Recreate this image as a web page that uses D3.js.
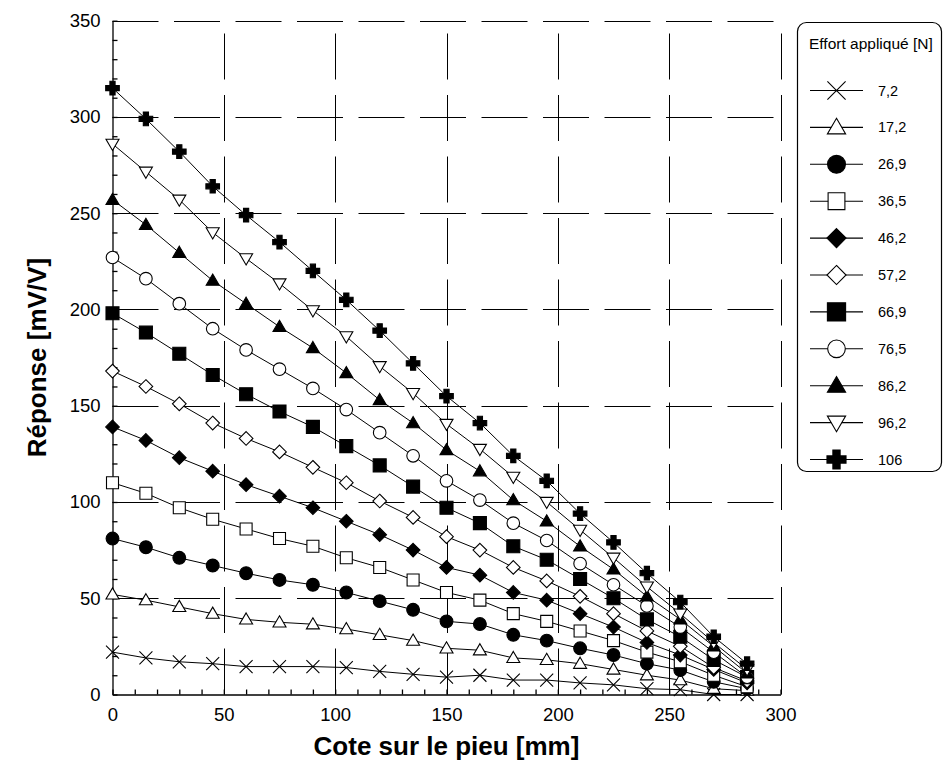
<!DOCTYPE html>
<html><head><meta charset="utf-8">
<script src="https://cdn.jsdelivr.net/npm/d3@7"></script>
<style>
body{margin:0;background:#fff}
text{font-family:"Liberation Sans",Arial,Helvetica,sans-serif;fill:#000}
</style>
</head><body>
<svg id="chart" width="944" height="766"></svg>
<script>
// ---- data ----
const cotes = [0,15,30,45,60,75,90,105,120,135,150,165,180,195,210,225,240,255,270,285];
const efforts = ["7,2","17,2","26,9","36,5","46,2","57,2","66,9","76,5","86,2","96,2","106"];
const markerTypes = ["x","triUp","circleF","square","diamondF","diamond","squareF","circle","triUpF","triDown","plus"];
const r7_2  = [22,19,17,16,14.5,14.5,14.5,14,12,10.5,9,10,7.5,7.5,6,5,3,2.5,0,0];
const r17_2 = [52,49,45.5,42,39,37.5,36.5,34,31,28,24,23,19,18,16,13,10,7.5,3,2];
const r26_9 = [81,76.5,71,67,63,59.5,57,53,48.5,44,38,36.6,31,28,24,20.5,16,12.7,6.6,3];
const r36_5 = [110,104.5,97,91,86,81,77,71,66,59.5,53,49,42,38,33,28,22,17,10,4];
const r46_2 = [139,132,123,116,109,103,97,90,83,75,66,62,53,49,42,35,27,20.5,13,6];
const r57_2 = [168,160,151,141,133,126,118,110,100.5,92,82,75,66,59,51,42,33,25,14,7];
const r66_9 = [198,188,177,166,156,147,139,129,119,108,97,89,77,70,60,50,39,30,18,9];
const r76_5 = [227,216,203,190,179,169,159,148,136,124,111,101,89,80,68,57,46,35,22,9];
const r86_2 = [257,244,229.5,215,203,191,180,167,153,141,127,116,101,90,77,65,51,39,25,11];
const r96_2 = [286,271.5,257,240,226.5,213.5,199.5,186,170.5,156.5,140.5,127.5,113,100,85.5,71,56,42,27,13];
const r106  = [315,299,282,264,249,235,220,205,189,172,155,141,124,111,94,79,63,48,30,16];
const series = [r7_2,r17_2,r26_9,r36_5,r46_2,r57_2,r66_9,r76_5,r86_2,r96_2,r106];
const xTicksMajor = [0,50,100,150,200,250,300];
const yTicksMajor = [0,50,100,150,200,250,300,350];

// ---- layout ----
const svg = d3.select("#chart");
const x = d3.scaleLinear().domain([0,300]).range([112.5,780.5]);
const y = d3.scaleLinear().domain([0,350]).range([694.5,20.7]);

// grid
const grid = svg.append("g").attr("stroke","#000").attr("stroke-width",1).attr("stroke-dasharray","46,15.5");
grid.selectAll(".h").data(yTicksMajor.filter(d=>d>0)).join("line")
  .attr("x1",x(0)).attr("x2",x(300)).attr("y1",d=>Math.round(y(d))+0.5).attr("y2",d=>Math.round(y(d))+0.5);
grid.selectAll(".v").data(xTicksMajor.filter(d=>d>0)).join("line")
  .attr("y1",y(0)).attr("y2",y(350)).attr("x1",d=>Math.round(x(d))+0.5).attr("x2",d=>Math.round(x(d))+0.5);

// axes
const xMinor = d3.axisBottom(x).tickValues(d3.range(0,301,10)).tickSize(-5).tickSizeOuter(0).tickFormat("");
const xMajor = d3.axisBottom(x).tickValues(xTicksMajor).tickSize(0).tickSizeOuter(0).tickPadding(13);
const yMinor = d3.axisLeft(y).tickValues(d3.range(0,351,10)).tickSize(-5).tickSizeOuter(0).tickFormat("");
const yMajor = d3.axisLeft(y).tickValues(yTicksMajor).tickSize(0).tickSizeOuter(0).tickPadding(12);
function styleAxis(g){
  g.selectAll("path,line").attr("stroke","#000").attr("stroke-width",1.3);
  g.selectAll("text").style("font-size","18.5px").style("font-family","'Liberation Sans',Arial,sans-serif").attr("fill","#000");
}
svg.append("g").attr("transform",`translate(0,${y(0)})`).call(xMinor).call(styleAxis);
svg.append("g").attr("transform",`translate(0,${y(0)})`).call(xMajor).call(styleAxis).select(".domain").remove();
svg.append("g").attr("transform",`translate(${x(0)},0)`).call(yMinor).call(styleAxis);
svg.append("g").attr("transform",`translate(${x(0)},0)`).call(yMajor).call(styleAxis).select(".domain").remove();

// axis titles
svg.append("text").attr("x",(x(0)+x(300))/2).attr("y",755).attr("text-anchor","middle")
  .style("font-size","26px").style("font-weight","bold").text("Cote sur le pieu [mm]");
svg.append("text").attr("transform",`translate(46,${(y(0)+y(350))/2}) rotate(-90)`).attr("text-anchor","middle")
  .style("font-size","26px").style("font-weight","bold").text("Réponse [mV/V]");

// marker shapes
function markerPath(type, s){
  const h = s*1.0;
  switch(type){
    case "x": return `M${-s},${-s}L${s},${s}M${-s},${s}L${s},${-s}`;
    case "triUp": case "triUpF": return `M0,${-h*1.05}L${s*1.05},${h*0.75}L${-s*1.05},${h*0.75}Z`;
    case "triDown": return `M0,${h*1.05}L${s*1.05},${-h*0.75}L${-s*1.05},${-h*0.75}Z`;
    case "square": case "squareF": return `M${-s},${-s}H${s}V${s}H${-s}Z`;
    case "diamond": case "diamondF": return `M0,${-s*1.1}L${s*1.1},0L0,${s*1.1}L${-s*1.1},0Z`;
    case "circle": case "circleF": return d3.arc()({innerRadius:0,outerRadius:s,startAngle:0,endAngle:2*Math.PI});
    case "plus": { const t=s*0.38; return `M${-t},${-s}H${t}V${-t}H${s}V${t}H${t}V${s}H${-t}V${t}H${-s}V${-t}H${-t}Z`; }
  }
}
function markerFill(type){ return (type.endsWith("F")||type==="plus") ? "#000" : (type==="x" ? "none" : "#fff"); }
const plotSize = {x:6.5,triUp:6.2,circleF:6.4,square:6,diamondF:6.2,diamond:6.2,squareF:6.5,circle:6.3,triUpF:6.2,triDown:6.2,plus:6.8};

const line = d3.line().x((d,i)=>x(cotes[i])).y(d=>y(d));
const plot = svg.append("g");
series.forEach((vals,si)=>{
  const type = markerTypes[si];
  const g = plot.append("g");
  g.append("path").attr("d",line(vals)).attr("fill","none").attr("stroke","#000").attr("stroke-width",1);
  g.selectAll("path.m").data(vals).join("path").attr("class","m")
    .attr("transform",(d,i)=>`translate(${x(cotes[i])},${y(d)})`)
    .attr("d",markerPath(type,plotSize[type]))
    .attr("fill",markerFill(type)).attr("stroke","#000").attr("stroke-width",1.1);
});

// legend
const lg = svg.append("g");
lg.append("rect").attr("x",797.5).attr("y",22.5).attr("width",144).attr("height",449).attr("rx",9)
  .attr("fill","#fff").attr("stroke","#000").attr("stroke-width",1.2);
lg.append("text").attr("x",809).attr("y",49).style("font-size","15.5px").text("Effort appliqué [N]");
const rowY = i => 90.5 + i*36.9;
efforts.forEach((lab,i)=>{
  const type = markerTypes[i];
  const gy = rowY(i);
  lg.append("line").attr("x1",810).attr("x2",863).attr("y1",gy).attr("y2",gy).attr("stroke","#000").attr("stroke-width",1.1);
  lg.append("path").attr("transform",`translate(836.5,${gy})`).attr("d",markerPath(type,plotSize[type]*1.4))
    .attr("fill",markerFill(type)).attr("stroke","#000").attr("stroke-width",1.1);
  lg.append("text").attr("x",878).attr("y",gy).attr("dy","0.35em").style("font-size","14.5px").text(lab);
});
</script>
</body></html>
